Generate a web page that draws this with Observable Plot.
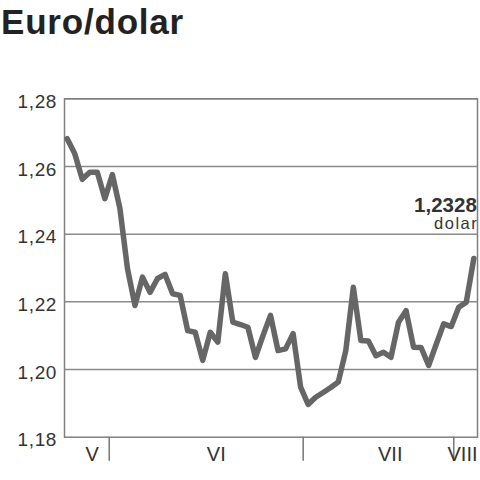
<!DOCTYPE html>
<html><head><meta charset="utf-8">
<script src="https://cdn.jsdelivr.net/npm/d3@7"></script>
<script src="https://cdn.jsdelivr.net/npm/@observablehq/plot@0.6"></script>
<style>
body{margin:0;background:#fff;}
#title{height:50px;margin:0;padding:0 0 0 1px;font-family:"Liberation Sans",Arial,sans-serif;font-weight:bold;font-size:35px;line-height:44px;color:#222;letter-spacing:0.8px;}
</style></head><body>
<div id="title">Euro/dolar</div>
<div id="chart"></div>
<script>
const values = [1.2682, 1.2638, 1.2562, 1.2583, 1.2583, 1.2505, 1.2576, 1.2476, 1.2299, 1.2189,
  1.2273, 1.2228, 1.2269, 1.2281, 1.2224, 1.2219, 1.2115, 1.2110, 1.2027, 1.2110,
  1.2081, 1.2283, 1.2140, 1.2133, 1.2125, 1.2036, 1.2100, 1.2160, 1.2056, 1.2061,
  1.2106, 1.1948, 1.1897, 1.1918, 1.1932, 1.1947, 1.1963, 1.2056, 1.2243, 1.2086,
  1.2084, 1.2041, 1.2051, 1.2036, 1.2140, 1.2174, 1.2066, 1.2065, 1.2012, 1.2074,
  1.2135, 1.2127, 1.2184, 1.2199, 1.2328];
const yTicks = [1.18, 1.20, 1.22, 1.24, 1.26, 1.28];
const gridTicks = [1.20, 1.22, 1.24, 1.26, 1.28];
const monthTicks = [5.58, 31.34, 51.34];
const monthLabels = ["V", "VI", "VII", "VIII"];
const monthLabelPos = [3.32, 19.8, 42.9, 52.5];
const lastLabel = "1,2328";
const unitLabel = "dolar";

const data = values.map((v, i) => ({i, v}));
const last = data[data.length - 1];
const fmt = d => d3.format(".2f")(d).replace(".", ",");

const chart = Plot.plot({
  width: 480, height: 430,
  marginTop: 48.3, marginBottom: 43.3, marginLeft: 64, marginRight: 3,
  style: {fontFamily: "Liberation Sans, Arial, sans-serif", color: "#333", background: "#fff"},
  x: {domain: [0, values.length - 1], insetLeft: 2.7, insetRight: 3.7, axis: null, label: null},
  y: {domain: [1.18, 1.28], axis: null, label: null},
  marks: [
    Plot.gridY(gridTicks, {stroke: "#8a8a8a", strokeOpacity: 1, strokeWidth: 1.5}),
    Plot.frame({stroke: "#808080", strokeWidth: 1.5}),
    Plot.axisY(yTicks, {tickSize: 0, tickPadding: 7.5, tickFormat: fmt, fontSize: 19, fill: "#333", dy: 3, label: null}),
    Plot.axisX(monthTicks, {tickSize: 24, tickFormat: () => "", stroke: "#777", strokeWidth: 1.5, label: null}),
    Plot.text(monthLabels, {x: monthLabelPos, text: d => d, frameAnchor: "bottom", dy: 24, fontSize: 20, fill: "#333"}),
    Plot.line(data, {x: "i", y: "v", stroke: "#666", strokeWidth: 5.5, strokeLinejoin: "round"}),
    Plot.text([last], {x: "i", y: "v", text: () => lastLabel, textAnchor: "end", lineAnchor: "bottom", dx: 3, dy: -47, fontSize: 20.5, fontWeight: "bold", fill: "#333"}),
    Plot.text([last], {x: "i", y: "v", text: () => unitLabel, textAnchor: "end", lineAnchor: "bottom", dx: 4.5, dy: -29.5, fontSize: 16.5, fill: "#333"})
  ]
});
document.getElementById("chart").appendChild(chart);
chart.querySelectorAll("text").forEach(t => {
  if (t.textContent === unitLabel) t.setAttribute("letter-spacing", "1.5");
  if (/^1,\d\d$/.test(t.textContent)) t.setAttribute("letter-spacing", "0.6");
});
</script>
</body></html>
